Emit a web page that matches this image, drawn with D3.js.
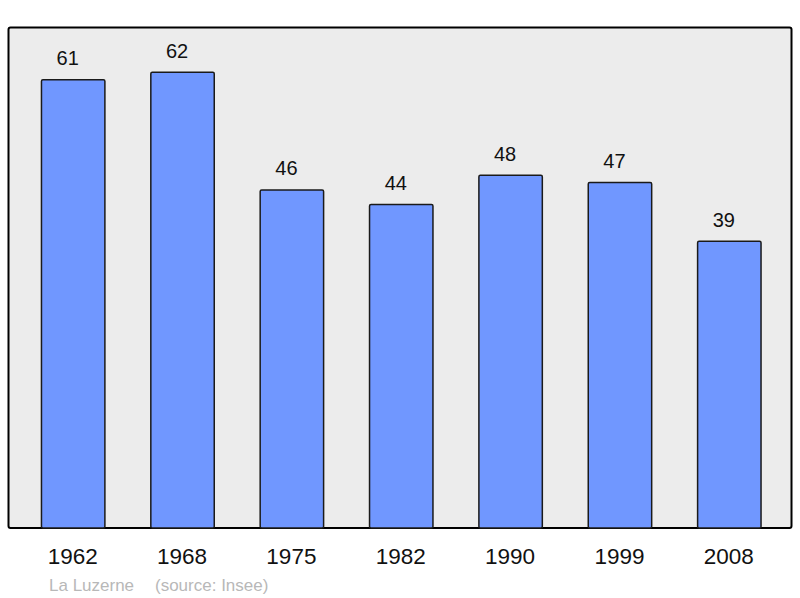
<!DOCTYPE html>
<html lang="fr">
<head>
    <meta charset="UTF-8">
    <script src="https://cdn.jsdelivr.net/npm/d3@7"></script>
    <title>La Luzerne</title>
    <style>
        body { margin: 0; background: #fff; }
        text { font-family: "Liberation Sans", Arial, sans-serif; }
    </style>
</head>
<body>
    <svg width="800" height="598"></svg>
    <script>
        const years = ['1962', '1968', '1975', '1982', '1990', '1999', '2008'];
        const population = [61, 62, 46, 44, 48, 47, 39];
        const yMax = 68;

        const svg = d3.select('svg');

        // cadre du graphique
        const frame = { left: 8.5, top: 27.5, right: 791.5, bottom: 528 };

        svg.append('rect')
            .attr('x', frame.left)
            .attr('y', frame.top)
            .attr('width', frame.right - frame.left)
            .attr('height', frame.bottom - frame.top)
            .attr('rx', 2)
            .attr('fill', '#ececec')
            .attr('stroke', '#000')
            .attr('stroke-width', 2);

        const xScale = d3.scaleBand()
            .domain(years)
            .range([18.5, 784])
            .paddingInner(0.42)
            .paddingOuter(0.21);

        const yScale = d3.scaleLinear()
            .domain([0, yMax])
            .range([frame.bottom, frame.bottom - yMax * 7.35]);

        svg.append('g')
            .selectAll('rect')
            .data(population)
            .enter()
            .append('rect')
            .attr('x', (d, i) => xScale(years[i]))
            .attr('y', d => yScale(d))
            .attr('width', xScale.bandwidth())
            .attr('height', d => yScale(0) - yScale(d))
            .attr('rx', 1.5)
            .attr('fill', '#7097ff')
            .attr('stroke', '#1a1a1a')
            .attr('stroke-width', 1.5);

        // valeurs au-dessus des barres (légèrement décalées à gauche)
        svg.append('g')
            .selectAll('text')
            .data(population)
            .enter()
            .append('text')
            .attr('x', (d, i) => xScale(years[i]) + xScale.bandwidth() / 2 - 5.5)
            .attr('y', d => yScale(d) - 14.5)
            .attr('text-anchor', 'middle')
            .attr('font-size', 20)
            .attr('fill', '#111')
            .text(d => d);

        // années
        svg.append('g')
            .selectAll('text')
            .data(years)
            .enter()
            .append('text')
            .attr('x', d => xScale(d) + xScale.bandwidth() / 2 - 0.5)
            .attr('y', 564)
            .attr('text-anchor', 'middle')
            .attr('font-size', 22.5)
            .attr('fill', '#111')
            .text(d => d);

        svg.append('text')
            .attr('x', 49)
            .attr('y', 590.5)
            .attr('font-size', 17)
            .attr('fill', '#b8b8b8')
            .text('La Luzerne');

        svg.append('text')
            .attr('x', 155)
            .attr('y', 590.5)
            .attr('font-size', 17)
            .attr('fill', '#b8b8b8')
            .text('(source: Insee)');
    </script>
</body>
</html>
